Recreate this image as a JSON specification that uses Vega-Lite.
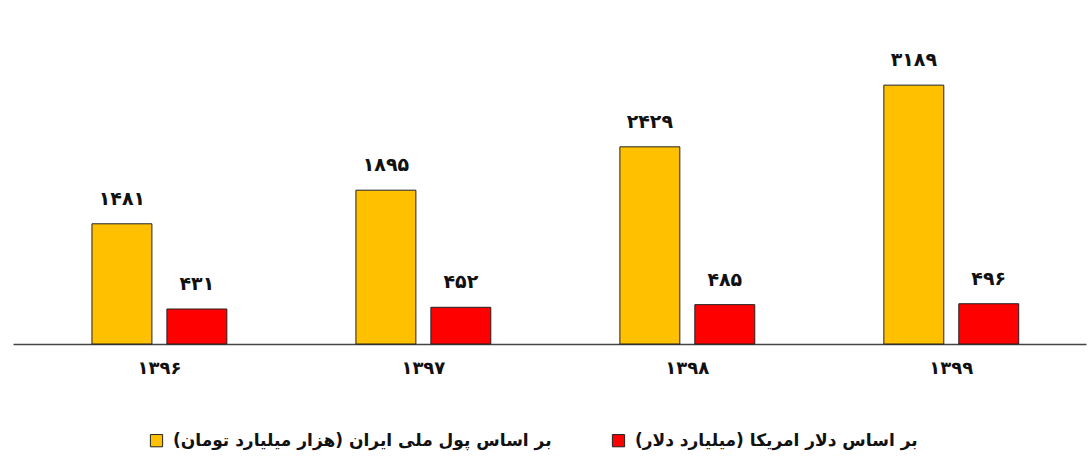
{
  "$schema": "https://vega.github.io/schema/vega-lite/v6.json",
  "width": 1073,
  "height": 344,
  "padding": {"left": 13, "top": 0, "right": 3, "bottom": 5},
  "background": "#ffffff",
  "config": {
    "view": {"stroke": null},
    "font": "DejaVu Sans"
  },
  "data": {
    "values": [
      {"year": "۱۳۹۶", "series": "بر اساس پول ملی ایران (هزار میلیارد تومان)", "value": 1481, "label": "۱۴۸۱"},
      {"year": "۱۳۹۶", "series": "بر اساس دلار امریکا (میلیارد دلار)", "value": 431, "label": "۴۳۱"},
      {"year": "۱۳۹۷", "series": "بر اساس پول ملی ایران (هزار میلیارد تومان)", "value": 1895, "label": "۱۸۹۵"},
      {"year": "۱۳۹۷", "series": "بر اساس دلار امریکا (میلیارد دلار)", "value": 452, "label": "۴۵۲"},
      {"year": "۱۳۹۸", "series": "بر اساس پول ملی ایران (هزار میلیارد تومان)", "value": 2429, "label": "۲۴۲۹"},
      {"year": "۱۳۹۸", "series": "بر اساس دلار امریکا (میلیارد دلار)", "value": 485, "label": "۴۸۵"},
      {"year": "۱۳۹۹", "series": "بر اساس پول ملی ایران (هزار میلیارد تومان)", "value": 3189, "label": "۳۱۸۹"},
      {"year": "۱۳۹۹", "series": "بر اساس دلار امریکا (میلیارد دلار)", "value": 496, "label": "۴۹۶"}
    ]
  },
  "encoding": {
    "x": {
      "field": "year", "type": "nominal", "sort": null,
      "scale": {"paddingInner": 0.489, "paddingOuter": 0.277, "align": 0.54},
      "axis": {
        "title": null, "labelAngle": 0, "ticks": false,
        "labelFontSize": 18, "labelFontWeight": "bold", "labelColor": "#111111",
        "labelPadding": 15, "domainColor": "#444444", "domainWidth": 1.5
      }
    },
    "xOffset": {
      "field": "series", "type": "nominal",
      "scale": {"domain": ["بر اساس پول ملی ایران (هزار میلیارد تومان)", "بر اساس دلار امریکا (میلیارد دلار)"], "paddingInner": 0.2, "paddingOuter": 0}
    },
    "y": {
      "field": "value", "type": "quantitative",
      "scale": {"domain": [0, 4238], "nice": false},
      "axis": null
    }
  },
  "layer": [
    {
      "mark": {"type": "bar", "stroke": "#222222", "strokeWidth": 1},
      "encoding": {
        "color": {
          "field": "series", "type": "nominal",
          "scale": {
            "domain": ["بر اساس پول ملی ایران (هزار میلیارد تومان)", "بر اساس دلار امریکا (میلیارد دلار)"],
            "range": ["#FFC000", "#FF0000"]
          },
          "legend": {
            "title": null, "orient": "none", "direction": "horizontal",
            "legendX": 135, "legendY": 432,
            "symbolType": "square", "symbolSize": 150,
            "symbolStrokeColor": "#222222", "symbolStrokeWidth": 1,
            "labelFontSize": 17, "labelFontWeight": "bold", "labelColor": "#111111",
            "labelOffset": 8, "columnPadding": 58, "labelLimit": 500
          }
        }
      }
    },
    {
      "mark": {"type": "text", "fontSize": 19, "fontWeight": "bold", "baseline": "alphabetic", "dy": -19, "color": "#111111"},
      "encoding": {"text": {"field": "label"}}
    }
  ]
}
